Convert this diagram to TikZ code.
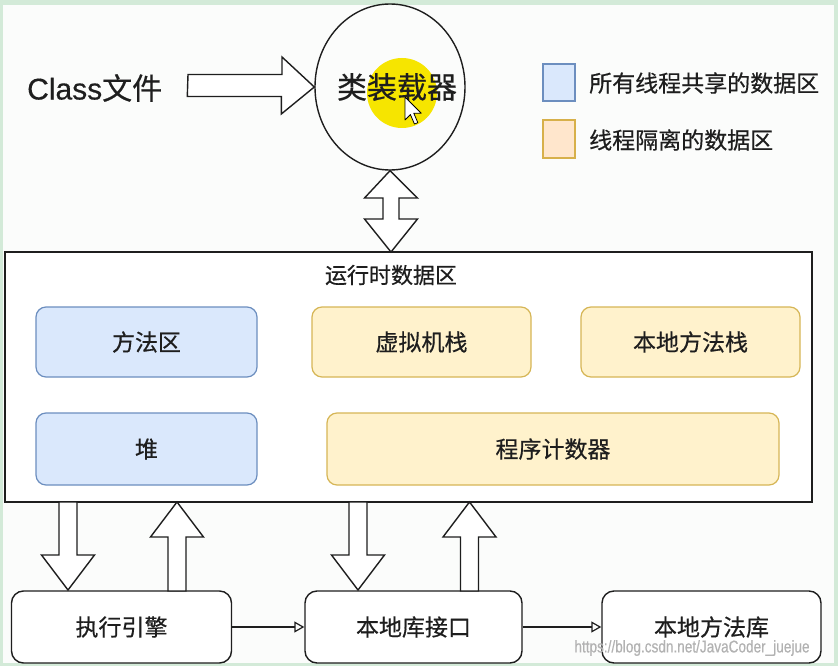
\documentclass[tikz,border=0pt]{standalone}
\usepackage{fontspec}
\setmainfont{Noto Sans CJK SC}[FakeBold=0.5]
\newfontfamily\latinfont{Liberation Sans}[FakeBold=0.4]
\usetikzlibrary{arrows.meta,calc,shapes.geometric}
\definecolor{bluefill}{HTML}{DAE8FC}
\definecolor{bluedraw}{HTML}{6C8EBF}
\definecolor{yelfill}{HTML}{FFF2CC}
\definecolor{yeldraw}{HTML}{D6B656}
\definecolor{orfill}{HTML}{FFE6CC}
\definecolor{ordraw}{HTML}{D7B04A}
\definecolor{frame}{HTML}{D3EAD8}
\definecolor{paper}{HTML}{FBFCFB}
\definecolor{ink}{HTML}{1E1E1E}
\definecolor{hilite}{HTML}{F6E500}
\tikzset{
  txt/.style={font=\fontsize{23}{27}\selectfont, text=ink},
  bluebox/.style={draw=bluedraw, fill=bluefill, line width=1.2pt, rounded corners=10pt, txt},
  yelbox/.style={draw=yeldraw, fill=yelfill, line width=1.2pt, rounded corners=10pt, txt},
  whitebox/.style={draw=ink, fill=white, line width=1.4pt, rounded corners=12pt, txt},
  blockarrow/.style={draw=ink, fill=white, line width=1.4pt, line join=miter},
  flow/.style={draw=ink, line width=1.2pt, -{Triangle[open,length=10pt,width=11pt]}},
}
% vertical block arrow: #1 centre x, #2 y of tail, #3 y of tip (y grows downwards)
\newcommand\vblockarrow[3]{%
  \pgfmathsetmacro\hb{#3>#2 ? #3-35 : #3+35}%
  \draw[blockarrow] (#1-9,#2) -- (#1-9,\hb) -- (#1-26.5,\hb) -- (#1,#3) -- (#1+26.5,\hb) -- (#1+9,\hb) -- (#1+9,#2) -- cycle;}
\begin{document}
\begin{tikzpicture}[x=1pt,y=-1pt]
\useasboundingbox (0,0) rectangle (838,666);
\fill[frame] (0,0) rectangle (838,666);
\fill[paper] (3,5) rectangle (834,663);

% class loader
\node[draw=ink, line width=1.4pt, ellipse, minimum width=150pt, minimum height=166pt, inner sep=0pt] (loader) at (390,87) {};
\fill[hilite] (402,93) circle (35);
\node[font=\fontsize{30}{34}\selectfont, text=ink] (loadertxt) at (397,87) {类装载器};
% mouse cursor
\begin{scope}[shift={(405,97)}, scale=1.35]
\draw[fill=white, draw=black, line width=0.8pt, line join=round]
  (0,0) -- (0,17) -- (4,13) -- (7,20) -- (9.5,19) -- (6.5,12) -- (12,12) -- cycle;
\end{scope}

\node[font=\fontsize{30}{34}\selectfont, text=ink, anchor=west, inner sep=0pt] (cls) at (27,88) {{\latinfont Class}文件};
\coordinate (rtail) at (188,84);
\draw[blockarrow] (rtail) ++(0,-9.5) -- ++(94,0) -- ++(0,-17.5) -- (loader.west) -- ++(-33,27) -- ++(0,-17.5) -- ++(-94,0) -- cycle;

% legend
\node[draw=bluedraw, fill=bluefill, line width=1.2pt, minimum width=32pt, minimum height=37pt, inner sep=0pt] (lg1) at (559,82.5) {};
\node[txt, anchor=west, inner sep=0pt] (lg1t) at (589,83) {所有线程共享的数据区};
\node[draw=ordraw, fill=orfill, line width=1.2pt, minimum width=32pt, minimum height=38pt, inner sep=0pt] (lg2) at (559,139) {};
\node[txt, anchor=west, inner sep=0pt] (lg2t) at (589,140) {线程隔离的数据区};

% runtime data area
\node[draw=ink, fill=white, line width=1.5pt, minimum width=807pt, minimum height=250pt, inner sep=0pt] (rt) at (408.5,377) {};
\node[txt, font=\fontsize{22}{26}\selectfont] (rttitle) at (391,275) {运行时数据区};
\node[bluebox, minimum width=221pt, minimum height=70pt] (ma) at (146.5,342) {方法区};
\node[yelbox, minimum width=219pt, minimum height=70pt] (vs) at (421.5,342) {虚拟机栈};
\node[yelbox, minimum width=219pt, minimum height=70pt] (ns) at (690.5,342) {本地方法栈};
\node[bluebox, minimum width=221pt, minimum height=72pt] (heap) at (146.5,449) {堆};
\node[yelbox, minimum width=452pt, minimum height=72pt] (pc) at (553,449) {程序计数器};

% double arrow loader <-> runtime area
\draw[blockarrow] (loader.south) -- (417.5,198) -- (399,198) -- (399,219) -- (417.5,219) -- (391,252) -- (364.5,219) -- (383,219) -- (383,198) -- (364.5,198) -- cycle;

% bottom boxes
\node[whitebox, minimum width=220pt, minimum height=72pt] (exec) at (121.5,627) {执行引擎};
\node[whitebox, minimum width=217pt, minimum height=72pt] (nif) at (413.5,627) {本地库接口};
\node[whitebox, minimum width=219pt, minimum height=72pt] (nlib) at (711.5,627) {本地方法库};

% block arrows between runtime area and bottom boxes
\vblockarrow{68}{502}{590}
\vblockarrow{177}{591}{502}
\vblockarrow{358}{502}{590}
\vblockarrow{469.5}{591}{502}

\draw[flow] (exec.east) -- (nif.west);
\draw[flow] (nif.east) -- (nlib.west);

% watermark
\node[text=black!30, font=\latinfont\fontsize{17}{19}\selectfont, inner sep=0pt] (wm) at (692,648) {\scalebox{0.8}[1]{https://blog.csdn.net/JavaCoder\_juejue}};
\end{tikzpicture}
\end{document}
